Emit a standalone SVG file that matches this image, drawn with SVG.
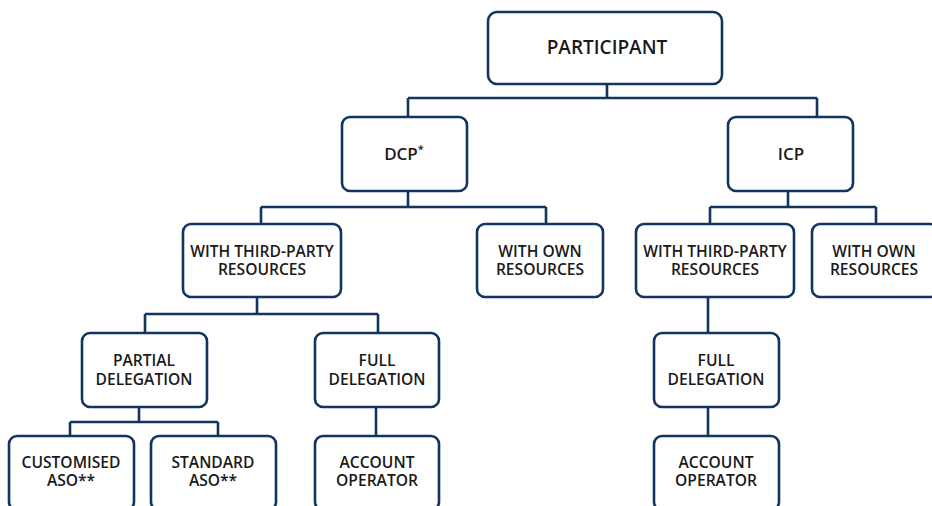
<svg xmlns="http://www.w3.org/2000/svg" width="932" height="506" viewBox="0 0 932 506">
<style>
.box{fill:#fff;stroke:#12355f;stroke-width:2.6}
.ln{fill:none;stroke:#12355f;stroke-width:2.6}
text{font-family:"Open Sans","Noto Sans","Liberation Sans",sans-serif;font-weight:600;font-size:15.6px;fill:#1a1a1a;text-anchor:middle}
.big{font-size:19px}
.mid{font-size:17px}
</style>
<rect width="932" height="506" fill="#fff"/>
<g id="connectors">
<path class="ln" d="M607 84V98M408 98H817M408 98V117M817 98V117"/>
<path class="ln" d="M408 191V207M261 207H546M261 207V224M546 207V224"/>
<path class="ln" d="M788 191V207M710 207H876M710 207V224M876 207V224"/>
<path class="ln" d="M257 297V314M145 314H378M145 314V333M378 314V333"/>
<path class="ln" d="M139 407V422M70 422H218M70 422V436M218 422V436"/>
<path class="ln" d="M376 407V436"/>
<path class="ln" d="M708 297V333M708 407V436"/>
</g>
<g id="participant"><rect class="box" x="488" y="12" width="234" height="72" rx="9"/><text class="big" x="607" y="54">PARTICIPANT</text></g>
<g id="dcp"><rect class="box" x="342" y="117" width="125" height="74" rx="8"/><text class="mid" x="404" y="160">DCP<tspan font-size="11" dy="-7">*</tspan></text></g>
<g id="icp"><rect class="box" x="728" y="117" width="125" height="74" rx="8"/><text class="mid" x="791" y="160">ICP</text></g>
<g id="dcp-third"><rect class="box" x="183" y="224" width="158" height="73" rx="8"/><text x="262" y="257">WITH THIRD-PARTY</text><text x="262" y="275">RESOURCES</text></g>
<g id="dcp-own"><rect class="box" x="477" y="224" width="126" height="73" rx="8"/><text x="540" y="257">WITH OWN</text><text x="540" y="275">RESOURCES</text></g>
<g id="icp-third"><rect class="box" x="636" y="224" width="158" height="73" rx="8"/><text x="715" y="257">WITH THIRD-PARTY</text><text x="715" y="275">RESOURCES</text></g>
<g id="icp-own"><rect class="box" x="812" y="224" width="126" height="73" rx="8"/><text x="874" y="257">WITH OWN</text><text x="874" y="275">RESOURCES</text></g>
<g id="partial"><rect class="box" x="82" y="333" width="125" height="74" rx="8"/><text x="144" y="366">PARTIAL</text><text x="144" y="385">DELEGATION</text></g>
<g id="full-dcp"><rect class="box" x="315" y="333" width="124" height="74" rx="8"/><text x="377" y="366">FULL</text><text x="377" y="385">DELEGATION</text></g>
<g id="full-icp"><rect class="box" x="654" y="333" width="125" height="74" rx="8"/><text x="716" y="366">FULL</text><text x="716" y="385">DELEGATION</text></g>
<g id="customised"><rect class="box" x="9" y="436" width="125" height="74" rx="8"/><text x="71" y="468">CUSTOMISED</text><text x="71" y="486">ASO**</text></g>
<g id="standard"><rect class="box" x="151" y="436" width="125" height="74" rx="8"/><text x="213" y="468">STANDARD</text><text x="213" y="486">ASO**</text></g>
<g id="account-dcp"><rect class="box" x="315" y="436" width="124" height="74" rx="8"/><text x="377" y="468">ACCOUNT</text><text x="377" y="486">OPERATOR</text></g>
<g id="account-icp"><rect class="box" x="654" y="436" width="125" height="74" rx="8"/><text x="716" y="468">ACCOUNT</text><text x="716" y="486">OPERATOR</text></g>
</svg>
